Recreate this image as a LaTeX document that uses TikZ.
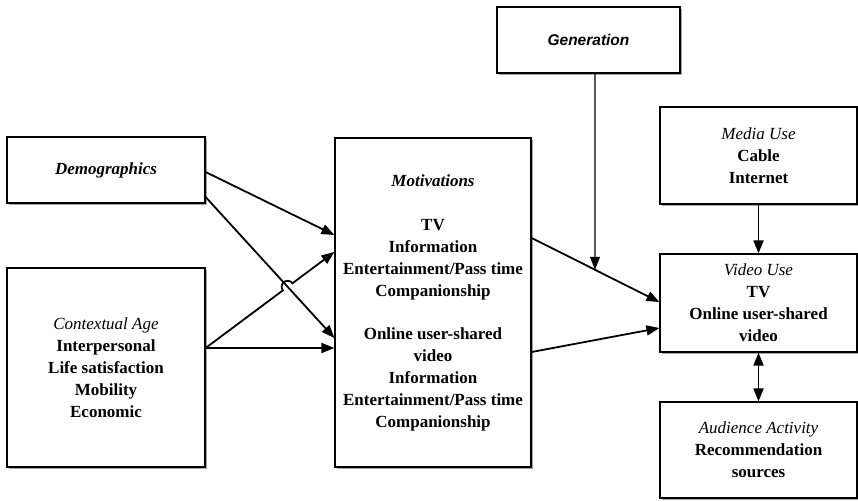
\documentclass[tikz,border=0pt]{standalone}
\usepackage{fontspec}
\setmainfont{Liberation Serif}
\newfontfamily\gensans{Liberation Sans}
\usetikzlibrary{arrows.meta,shadows,intersections,calc}
\begin{document}
\begin{tikzpicture}[x=1pt,y=-1pt,
  box/.style={draw,line width=1.2pt,fill=white,align=center,inner sep=2pt,
    font=\fontsize{17}{22}\selectfont\bfseries,
    drop shadow={shadow xshift=1.6pt,shadow yshift=-1.6pt,fill=gray!70,opacity=1}},
  arr/.style={-{Triangle[length=13pt,width=10pt]},line width=1.8pt},
  dblarr/.style={{Triangle[length=13pt,width=10pt]}-{Triangle[length=13pt,width=10pt]},line width=1.8pt}]
\useasboundingbox (0,0) rectangle (858,501);

\node[box,minimum width=198pt,minimum height=66pt] (dem) at (106,170) {\itshape Demographics};
\node[box,minimum width=198pt,minimum height=199pt] (ctx) at (106,367.5)
  {{\mdseries\itshape Contextual Age}\\ Interpersonal\\ Life satisfaction\\ Mobility\\ Economic};
\node[box,minimum width=196pt,minimum height=329pt] (mot) at (433,302.5)
  {{\itshape Motivations}\\[22pt] TV\\ Information\\ Entertainment/Pass time\\ Companionship\\[21pt]
   Online user-shared\\ video\\ Information\\ Entertainment/Pass time\\ Companionship};
\node[box,minimum width=183pt,minimum height=66pt,font=\gensans\fontsize{15.5}{18}\selectfont\bfseries\itshape] (gen) at (588.5,40) {Generation};
\node[box,minimum width=197pt,minimum height=97pt] (med) at (758.5,155.5)
  {{\mdseries\itshape Media Use}\\ Cable\\ Internet};
\node[box,minimum width=197pt,minimum height=98pt] (vid) at (758.5,303)
  {{\mdseries\itshape Video Use}\\ TV\\ Online user-shared\\ video};
\node[box,minimum width=197pt,minimum height=96pt] (aud) at (758.5,450)
  {{\mdseries\itshape Audience Activity}\\ Recommendation\\ sources};

% left arrows
\draw[arr] ([yshift=-2pt]dem.east) -- ([yshift=67.5pt]mot.west);
\draw[arr,name path=d2] ([yshift=-27pt]dem.east) -- ([yshift=-35.5pt]mot.west);
\draw[arr] ([yshift=19.5pt]ctx.east) -- ([yshift=-45.5pt]mot.west);
\path[name path=c1] ([yshift=19.5pt]ctx.east) -- ([yshift=50.5pt]mot.west);
\path[name intersections={of=c1 and d2,by=X}];
\coordinate (ca) at ([yshift=19.5pt]ctx.east);
\coordinate (cb) at ([yshift=50.5pt]mot.west);
\draw[arr] let \p1=($(cb)-(ca)$), \n1={atan2(\y1,\x1)} in
  (ca) -- ($(X)!6pt!(ca)$) arc[start angle=\n1+180, delta angle=-180, radius=6pt] -- (cb);

% right arrows
\draw[arr,name path=m1] ([yshift=64.5pt]mot.east) -- ([yshift=1pt]vid.west);
\draw[arr] ([yshift=-49.5pt]mot.east) -- ([yshift=-25pt]vid.west);
\path[name path=gv] ([xshift=6.5pt]gen.south) -- ++(0,300);
\path[name intersections={of=m1 and gv,by=G}];
\draw[arr,line width=1.2pt] ([xshift=6.5pt]gen.south) -- (G);
\draw[arr] (med.south) -- (vid.north);
\draw[dblarr] (vid.south) -- (aud.north);
\end{tikzpicture}
\end{document}
